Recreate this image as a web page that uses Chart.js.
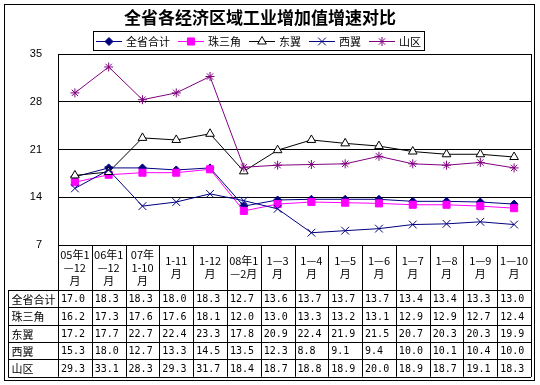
<!DOCTYPE html>
<html>
<head>
<meta charset="utf-8">
<script src="https://cdn.jsdelivr.net/npm/chart.js@4.4.0/dist/chart.umd.min.js"></script>
<style>
html, body { margin: 0; padding: 0; background: #fff; }
#wrap { width: 540px; height: 385px; }
</style>
</head>
<body>
<div id="wrap"><canvas id="myChart"></canvas></div>
<script>
// categories (header row of the data table)
var categories = [
    ['05年1', '—12', '月'], ['06年1', '—12', '月'], ['07年', '1-10', '月'],
    ['1-11', '月'], ['1-12', '月'], ['08年1', '—2月'],
    ['1—3', '月'], ['1—4', '月'], ['1—5', '月'], ['1—6', '月'],
    ['1—7', '月'], ['1—8', '月'], ['1—9', '月'], ['1—10', '月']
];
var seriesNames = ['全省合计', '珠三角', '东翼', '西翼', '山区'];

var total   = [17.0, 18.3, 18.3, 18.0, 18.3, 12.7, 13.6, 13.7, 13.7, 13.7, 13.4, 13.4, 13.3, 13.0];
var delta   = [16.2, 17.3, 17.6, 17.6, 18.1, 12.0, 13.0, 13.3, 13.2, 13.1, 12.9, 12.9, 12.7, 12.4];
var east    = [17.2, 17.7, 22.7, 22.4, 23.3, 17.8, 20.9, 22.4, 21.9, 21.5, 20.7, 20.3, 20.3, 19.9];
var west    = [15.3, 18.0, 12.7, 13.3, 14.5, 13.5, 12.3, 8.8, 9.1, 9.4, 10.0, 10.1, 10.4, 10.0];
var mountain = [29.3, 33.1, 28.3, 29.3, 31.7, 18.4, 18.7, 18.8, 18.9, 20.0, 18.9, 18.7, 19.1, 18.3];

var yMin = 7, yMax = 35, yStep = 7;

var seriesData = [total, delta, east, west, mountain];
var styles = [
    { color: '#000080', point: 'rectRot', radius: 4, fill: '#000080' },
    { color: '#ff00ff', point: 'rect', radius: 5, fill: '#ff00ff' },
    { color: '#000000', point: 'triangle', radius: 5, fill: '#ffffff' },
    { color: '#000080', point: 'crossRot', radius: 5.5, fill: '#000080' },
    { color: '#800080', point: 'star', radius: 4.5, fill: '#800080' }
];

var cjk = '"Noto Sans CJK SC", sans-serif';

// title, legend, plot frame and the data table
var decorations = {
    id: 'decorations',
    afterDraw: function (chart) {
        var ctx = chart.ctx, a = chart.chartArea, xs = chart.scales.x;
        var n = categories.length, colW = (a.right - a.left) / n;
        var headTop = a.bottom, headBot = 290, rowH = 17.35, tabLeft = 8.5;
        var tabBot = headBot + rowH * seriesNames.length;
        var H = function (x1, y1, x2, y2) {
            ctx.beginPath(); ctx.moveTo(x1, y1); ctx.lineTo(x2, y2); ctx.stroke();
        };
        ctx.save();
        ctx.strokeStyle = '#000';
        ctx.lineWidth = 1;

        // plot right edge
        H(Math.round(a.right) + 0.5, a.top, Math.round(a.right) + 0.5, tabBot);

        // table grid
        for (var i = 0; i <= n; i++) {
            var x = Math.round(a.left + i * colW) + 0.5;
            H(x, headTop, x, tabBot);
        }
        for (var k = 0; k <= seriesNames.length; k++) {
            var y = Math.round(headBot + k * rowH) + 0.5;
            H(tabLeft, y, a.right, y);
        }
        H(tabLeft, headBot, tabLeft, Math.round(tabBot) + 0.5);

        // header labels
        ctx.fillStyle = '#000';
        ctx.font = '11px ' + cjk;
        ctx.textAlign = 'center';
        ctx.textBaseline = 'middle';
        categories.forEach(function (lab, i) {
            var cx = xs.getPixelForValue(i);
            var lh = 13;
            var y0 = (headTop + headBot) / 2 - (lab.length - 1) * lh / 2;
            lab.forEach(function (t, j) { ctx.fillText(t, cx, y0 + j * lh); });
        });

        // rows
        ctx.textAlign = 'left';
        seriesNames.forEach(function (name, k) {
            var cy = headBot + (k + 0.5) * rowH + 1;
            ctx.font = '11px ' + cjk;
            ctx.fillText(name, tabLeft + 3, cy);
            ctx.font = '10px "DejaVu Sans Mono", monospace';
            seriesData[k].forEach(function (v, i) {
                ctx.fillText(v.toFixed(1), xs.getPixelForValue(i) - colW / 2 + 3, cy);
            });
        });

        // title
        ctx.font = 'bold 17px ' + cjk;
        ctx.textAlign = 'center';
        ctx.fillText('全省各经济区域工业增加值增速对比', 260, 18);

        // legend
        ctx.font = '11px ' + cjk;
        var lineW = 26, gap = 4, itemGap = 8;
        var widths = seriesNames.map(function (s) { return ctx.measureText(s).width; });
        var total = widths.reduce(function (s, w) { return s + lineW + gap + w + itemGap; }, 0) - itemGap;
        var lx = 258.5 - total / 2, ly = 41;
        ctx.strokeRect(Math.round(lx - 3) + 0.5, 31.5, Math.round(total + 6), 19);
        ctx.textAlign = 'left';
        chart.data.datasets.forEach(function (ds, k) {
            ctx.strokeStyle = ds.borderColor;
            ctx.lineWidth = 1;
            H(lx, ly + 0.5, lx + lineW, ly + 0.5);
            ctx.fillStyle = ds.pointBackgroundColor;
            Chart.helpers.drawPoint(ctx, {
                pointStyle: ds.pointStyle, radius: ds.pointRadius, borderWidth: 1, rotation: 0
            }, lx + lineW / 2, ly + 0.5);
            ctx.fillStyle = '#000';
            ctx.fillText(ds.label, lx + lineW + gap, ly + 1);
            lx += lineW + gap + widths[k] + itemGap;
        });

        // outer frame
        ctx.strokeStyle = '#000';
        ctx.strokeRect(4.5, 4.5, 530, 376);
        ctx.restore();
    }
};

var ctx = document.getElementById('myChart').getContext('2d');
var chart = new Chart(ctx, {
    type: 'line',
    data: {
        labels: categories.map(function (c) { return c.join(''); }),
        datasets: seriesNames.map(function (name, k) {
            var st = styles[k];
            return {
                label: name,
                data: seriesData[k],
                borderColor: st.color,
                backgroundColor: st.fill,
                borderWidth: 1,
                pointStyle: st.point,
                pointRadius: st.radius,
                pointBorderColor: st.color,
                pointBackgroundColor: st.fill,
                pointBorderWidth: 1,
                tension: 0,
                fill: false,
                order: seriesNames.length - k
            };
        })
    },
    options: {
        responsive: true,
        maintainAspectRatio: false,
        animation: false,
        devicePixelRatio: 1,
        layout: { padding: { top: 54, left: 0, right: 9, bottom: 0 } },
        scales: {
            x: {
                offset: true,
                grid: { display: false },
                border: { display: true, color: '#000' },
                ticks: { display: false },
                afterFit: function (s) { s.height = 140; }
            },
            y: {
                min: yMin,
                max: yMax,
                ticks: {
                    stepSize: yStep,
                    color: '#000',
                    padding: 16,
                    font: { family: 'Liberation Sans', size: 11 }
                },
                grid: { color: '#000', drawTicks: false },
                border: { color: '#000' },
                afterFit: function (s) { s.width = 58; }
            }
        },
        plugins: {
            legend: { display: false },
            title: { display: false },
            tooltip: { enabled: false }
        }
    },
    plugins: [decorations]
});
</script>
</body>
</html>
